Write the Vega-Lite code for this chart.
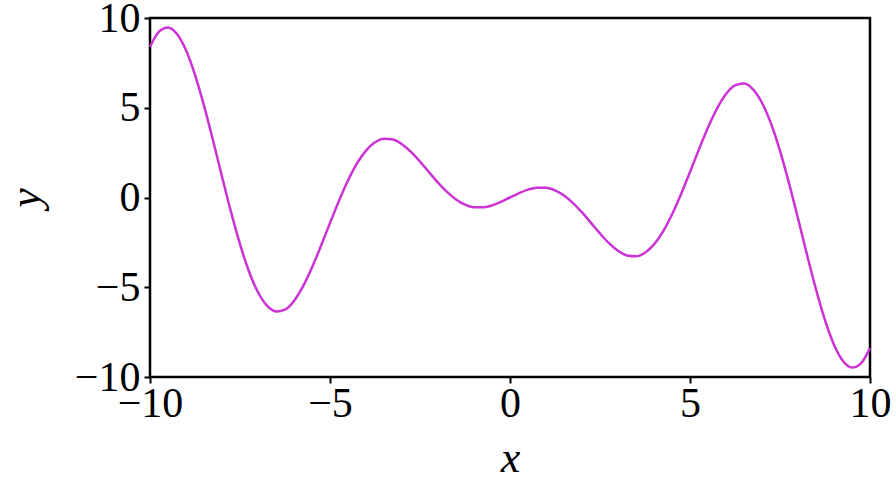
{
  "$schema": "https://vega.github.io/schema/vega-lite/v6.json",
  "autosize": "none",
  "width": 720,
  "height": 359,
  "padding": {"left": 150, "top": 18, "right": 26, "bottom": 110},
  "background": "white",
  "config": {
    "view": {"stroke": "black", "strokeWidth": 2.5},
    "font": "Liberation Serif"
  },
  "data": {"values": [
    {"x": -10, "y": 8.3907}, {"x": -9.75, "y": 9.2389}, {"x": -9.5, "y": 9.4731}, {"x": -9.25, "y": 9.109},
    {"x": -9, "y": 8.2002}, {"x": -8.75, "y": 6.832}, {"x": -8.5, "y": 5.1171}, {"x": -8.25, "y": 3.1823},
    {"x": -8, "y": 1.164}, {"x": -7.75, "y": -0.8045}, {"x": -7.5, "y": -2.5998}, {"x": -7.25, "y": -4.12},
    {"x": -7, "y": -5.2773}, {"x": -6.75, "y": -6.0278}, {"x": -6.5, "y": -6.3478}, {"x": -6.25, "y": -6.2465},
    {"x": -6, "y": -5.761}, {"x": -5.75, "y": -4.9518}, {"x": -5.5, "y": -3.8977}, {"x": -5.25, "y": -2.6884},
    {"x": -5, "y": -1.4183}, {"x": -4.75, "y": -0.1786}, {"x": -4.5, "y": 0.9486}, {"x": -4.25, "y": 1.8959},
    {"x": -4, "y": 2.6146}, {"x": -3.75, "y": 3.0771}, {"x": -3.5, "y": 3.2776}, {"x": -3.25, "y": 3.2309},
    {"x": -3, "y": 2.97}, {"x": -2.75, "y": 2.5418}, {"x": -2.5, "y": 2.0029}, {"x": -2.25, "y": 1.4134},
    {"x": -2, "y": 0.8323}, {"x": -1.75, "y": 0.3119}, {"x": -1.5, "y": -0.1061}, {"x": -1.25, "y": -0.3942},
    {"x": -1, "y": -0.5403}, {"x": -0.75, "y": -0.5488}, {"x": -0.5, "y": -0.4388}, {"x": -0.25, "y": -0.2422},
    {"x": 0, "y": 0},
    {"x": 0.25, "y": 0.2422}, {"x": 0.5, "y": 0.4388}, {"x": 0.75, "y": 0.5488}, {"x": 1, "y": 0.5403},
    {"x": 1.25, "y": 0.3942}, {"x": 1.5, "y": 0.1061}, {"x": 1.75, "y": -0.3119}, {"x": 2, "y": -0.8323},
    {"x": 2.25, "y": -1.4134}, {"x": 2.5, "y": -2.0029}, {"x": 2.75, "y": -2.5418}, {"x": 3, "y": -2.97},
    {"x": 3.25, "y": -3.2309}, {"x": 3.5, "y": -3.2776}, {"x": 3.75, "y": -3.0771}, {"x": 4, "y": -2.6146},
    {"x": 4.25, "y": -1.8959}, {"x": 4.5, "y": -0.9486}, {"x": 4.75, "y": 0.1786}, {"x": 5, "y": 1.4183},
    {"x": 5.25, "y": 2.6884}, {"x": 5.5, "y": 3.8977}, {"x": 5.75, "y": 4.9518}, {"x": 6, "y": 5.761},
    {"x": 6.25, "y": 6.2465}, {"x": 6.5, "y": 6.3478}, {"x": 6.75, "y": 6.0278}, {"x": 7, "y": 5.2773},
    {"x": 7.25, "y": 4.12}, {"x": 7.5, "y": 2.5998}, {"x": 7.75, "y": 0.8045}, {"x": 8, "y": -1.164},
    {"x": 8.25, "y": -3.1823}, {"x": 8.5, "y": -5.1171}, {"x": 8.75, "y": -6.832}, {"x": 9, "y": -8.2002},
    {"x": 9.25, "y": -9.109}, {"x": 9.5, "y": -9.4731}, {"x": 9.75, "y": -9.2389}, {"x": 10, "y": -8.3907}
  ]},
  "mark": {"type": "line", "color": "#cc33d4", "strokeWidth": 2.5, "interpolate": "monotone"},
  "encoding": {
    "x": {
      "field": "x", "type": "quantitative",
      "scale": {"domain": [-10, 10], "nice": false, "zero": false},
      "axis": {
        "values": [-10, -5, 0, 5, 10], "grid": false, "domain": false,
        "tickColor": "black", "tickWidth": 2, "tickSize": 6,
        "labelFontSize": 42, "labelColor": "black", "labelPadding": 0,
        "labelFlush": false, "labelFont": "Liberation Serif",
        "title": "x", "titleFontSize": 44, "titleFontStyle": "italic", "titleFontWeight": "normal",
        "titleColor": "black", "titlePadding": 12, "titleFont": "Liberation Serif"
      }
    },
    "y": {
      "field": "y", "type": "quantitative",
      "scale": {"domain": [-10, 10], "nice": false, "zero": false},
      "axis": {
        "values": [-10, -5, 0, 5, 10], "grid": false, "domain": false,
        "tickColor": "black", "tickWidth": 2, "tickSize": 6,
        "labelFontSize": 42, "labelColor": "black", "labelPadding": 4,
        "labelFlush": false, "labelFont": "Liberation Serif",
        "title": "y", "titleFontSize": 44, "titleFontStyle": "italic", "titleFontWeight": "normal",
        "titleColor": "black", "titlePadding": 26, "titleFont": "Liberation Serif"
      }
    }
  }
}
